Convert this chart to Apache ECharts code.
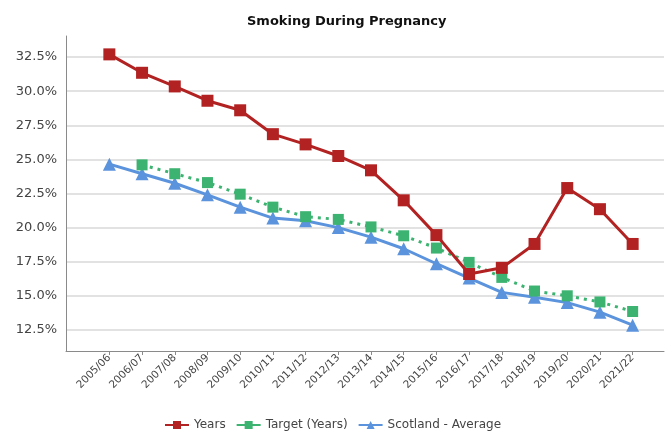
<!DOCTYPE html>
<html>
<head>
<meta charset="utf-8">
<script src="https://cdn.jsdelivr.net/npm/echarts@6/dist/echarts.min.js"></script>
<style>html,body{margin:0;padding:0;background:#fff;}#c{width:665px;height:432px;}</style>
</head>
<body>
<div id="c"></div>
<script>
const categories = ['2005/06','2006/07','2007/08','2008/09','2009/10','2010/11','2011/12','2012/13','2013/14','2014/15','2015/16','2016/17','2017/18','2018/19','2019/20','2020/21','2021/22'];
const years = [32.7, 31.35, 30.35, 29.3, 28.6, 26.85, 26.1, 25.25, 24.2, 22.0, 19.45, 16.6, 17.05, 18.8, 22.9, 21.35, 18.8];
const target = [null, 24.6, 23.95, 23.3, 22.45, 21.5, 20.8, 20.6, 20.05, 19.4, 18.5, 17.45, 16.35, 15.35, 15.0, 14.55, 13.85];
const scotland = [24.65, 23.95, 23.25, 22.4, 21.5, 20.7, 20.5, 20.0, 19.3, 18.45, 17.35, 16.3, 15.25, 14.9, 14.5, 13.8, 12.85];
const yMin = 10, yMax = 35, yStep = 2.5;
const titleText = 'Smoking During Pregnancy';
const seriesNames = ['Years', 'Target (Years)', 'Scotland - Average'];

const chart = echarts.init(document.getElementById('c'), null, {renderer: 'canvas'});
const FONT = 'DejaVu Sans';
const axisGrey = '#8a8a8a';
chart.setOption({
  animation: false,
  backgroundColor: '#ffffff',
  title: {
    text: titleText, left: 242, top: 10,
    textStyle: {fontFamily: FONT, fontSize: 13, fontWeight: 'bold', color: '#111'}
  },
  legend: {
    data: [
      {name: seriesNames[0]},
      {name: seriesNames[1], lineStyle: {type: 'solid'}},
      {name: seriesNames[2]}
    ],
    left: 'center', top: 414,
    itemWidth: 24, itemHeight: 10, itemGap: 10,
    textStyle: {fontFamily: FONT, fontSize: 12, color: '#444'}
  },
  grid: [
    {left: 66, right: 1, top: 36, bottom: 81},
    {left: 66, right: 1, top: 23, bottom: 68},
    {left: 93, right: 16, top: 23, bottom: 68}
  ],
  xAxis: [
    {gridIndex: 0, type: 'value', min: 0, max: 1,
     axisLine: {show: true, lineStyle: {color: axisGrey, width: 1}},
     axisTick: {show: false}, axisLabel: {show: false}, splitLine: {show: false}},
    {gridIndex: 1, type: 'value', min: 0, max: 1, show: false},
    {gridIndex: 2, type: 'category', data: categories, boundaryGap: true, offset: -13,
     axisLine: {show: false},
     axisTick: {show: true, alignWithLabel: true, length: 4, lineStyle: {color: axisGrey}},
     axisLabel: {rotate: 45, interval: 0, fontFamily: FONT, fontSize: 10.5, color: '#444', margin: 5},
     splitLine: {show: false}}
  ],
  yAxis: [
    {gridIndex: 0, type: 'value', min: 0, max: 1,
     axisLine: {show: true, lineStyle: {color: axisGrey, width: 1}},
     axisTick: {show: false}, axisLabel: {show: false}, splitLine: {show: false}},
    {gridIndex: 1, type: 'value', min: yMin, max: yMax, interval: yStep,
     axisLine: {show: false}, axisTick: {show: false},
     axisLabel: {showMinLabel: false, showMaxLabel: false, fontFamily: FONT, fontSize: 13, color: '#444', margin: 9,
       formatter: v => v.toFixed(1) + '%'},
     splitLine: {show: true, showMinLine: false, showMaxLine: false, lineStyle: {color: '#e2e2e2', width: 2}}},
    {gridIndex: 2, type: 'value', min: yMin, max: yMax, interval: yStep, show: false, splitLine: {show: false}}
  ],
  series: [
    {name: seriesNames[0], type: 'line', xAxisIndex: 2, yAxisIndex: 2, data: years,
     symbol: 'rect', symbolSize: 12, color: '#b22222',
     lineStyle: {width: 3, color: '#b22222'}, itemStyle: {color: '#b22222'}, z: 3},
    {name: seriesNames[1], type: 'line', xAxisIndex: 2, yAxisIndex: 2, data: target,
     symbol: 'rect', symbolSize: 11, color: '#3cb371',
     lineStyle: {width: 3, color: '#3cb371', type: [3, 5]}, itemStyle: {color: '#3cb371'}, z: 2},
    {name: seriesNames[2], type: 'line', xAxisIndex: 2, yAxisIndex: 2, data: scotland,
     symbol: 'triangle', symbolSize: 13, color: '#5b93dc',
     lineStyle: {width: 3, color: '#5b93dc'}, itemStyle: {color: '#5b93dc'}, z: 1}
  ]
});
</script>
</body>
</html>
